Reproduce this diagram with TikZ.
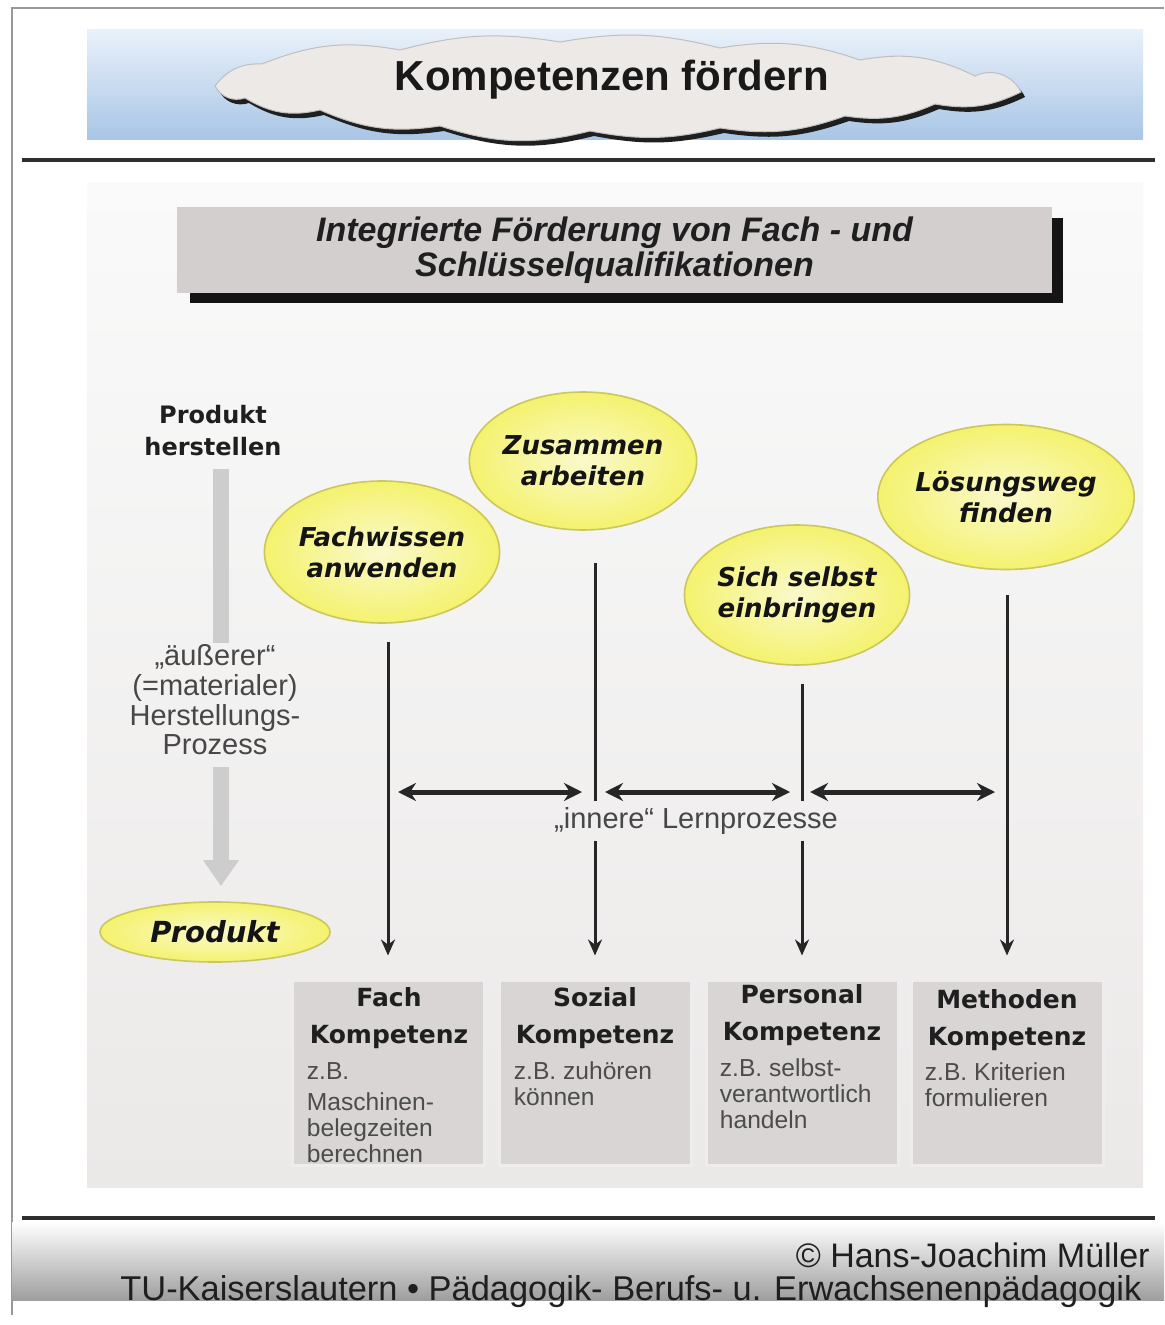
\documentclass[tikz,border=0pt]{standalone}
\usepackage{fontspec}
\setmainfont{Liberation Sans}
\newfontfamily\wide{DejaVu Sans}
\usetikzlibrary{arrows.meta,shapes.geometric,calc}

\definecolor{bandtop}{HTML}{E9F1FA}
\definecolor{bandbot}{HTML}{A8C5E6}
\definecolor{cloudfill}{HTML}{ECE9E7}
\definecolor{paneltop}{HTML}{FAFAFA}
\definecolor{panelbot}{HTML}{EBE9E8}
\definecolor{headgray}{HTML}{D3CFCF}
\definecolor{boxgray}{HTML}{D9D5D4}
\definecolor{ylight}{HTML}{FAF9CC}
\definecolor{ymid}{HTML}{F4F26A}
\definecolor{ydark}{HTML}{E9E526}
\definecolor{yrim}{HTML}{CBC65E}
\definecolor{arrowgray}{HTML}{CDCDCD}

\pgfdeclareradialshading{yellowball}{\pgfpoint{0bp}{0bp}}{%
  color(0bp)=(ylight); color(26bp)=(ymid); color(45bp)=(ydark); color(50bp)=(ydark)}

\tikzset{
  ball/.style={ellipse, shading=yellowball, draw=yrim, line width=0.8pt,
    inner sep=0pt, align=center, text=black!92,
    font=\wide\bfseries\itshape\fontsize{13}{15.5}\selectfont},
  kbox/.style={rectangle, fill=boxgray, draw=white!55!boxgray, line width=1.5pt,
    minimum width=96pt, minimum height=92.5pt, inner sep=0pt},
  ktitle/.style={align=center, inner sep=0pt, text=black!88,
    font=\wide\bfseries\fontsize{12.5}{18.5}\selectfont},
  kdesc/.style={align=left, inner sep=0pt, anchor=north west, text=black!70,
    font=\fontsize{12.3}{13}\selectfont},
  vline/.style={line width=1.5pt, black!85},
  varr/.style={vline, -{Stealth[length=8pt,width=7pt]}},
  harr/.style={line width=2.5pt, black!85,
    {Stealth[length=9pt,width=9pt]}-{Stealth[length=9pt,width=9pt]}},
  procline/.style={line width=8pt, arrowgray},
  procarrow/.style={procline, -{Triangle[length=13pt,width=17pt]}},
  note/.style={align=center, inner sep=2pt, text=black!72,
    font=\fontsize{14.5}{14.8}\selectfont},
  cloudpath/.style={insert path={
    (215,86) to[bend left=28] (262,64) to[bend left=16] (400,50)
    to[bend left=12] (560,42) to[bend left=12] (720,48)
    to[bend left=14] (860,60) to[bend left=18] (975,76)
    to[bend left=45] (1021,92) to[bend left=18] (935,104)
    to[bend left=16] (845,116) to[bend left=14] (720,128)
    to[bend left=12] (590,131) to[bend left=16] (440,126)
    to[bend left=16] (320,110) to[bend left=22] (245,98)
    to[bend left=40] (215,86) -- cycle}}
}

\begin{document}
\begin{tikzpicture}[x=0.5pt,y=-0.5pt]
\useasboundingbox (0,0) rectangle (1164,1325);
\clip (0,0) rectangle (1164,1325);
\fill[white] (0,0) rectangle (1164,1325);

% page frame
\draw[black!40, line width=1pt] (12,1315) -- (12,8) -- (1164,8);

% title band with cloud
\fill[top color=bandtop, bottom color=bandbot] (87,30) rectangle (1143,140);
\fill[black!88, shift={(4,5)}, cloudpath];
\fill[cloudfill, draw=black!25, line width=0.5pt, cloudpath];
\node[font=\bfseries\fontsize{21}{24}\selectfont, text=black!90] (title) at (612,80) {Kompetenzen fördern};

% separator lines
\draw[black!82, line width=2pt] (22,160) -- (1155,160);

% main panel
\fill[top color=paneltop, bottom color=panelbot] (87,183) rectangle (1143,1187);

% heading box with shadow
\fill[black!92] (190,218) rectangle (1063,303);
\node[rectangle, fill=headgray, minimum width=437.5pt, minimum height=43pt,
  align=center, inner sep=0pt, text=black!88,
  font=\bfseries\itshape\fontsize{17}{17.5}\selectfont]
  (integ) at (614.5,250) {Integrierte Förderung von Fach - und\\Schlüsselqualifikationen};

% left column: material production process
\node[align=center, inner sep=0pt, text=black!88,
  font=\wide\bfseries\fontsize{12}{16}\selectfont] (herst) at (213,431) {Produkt\\herstellen};
\node[ellipse, shading=yellowball, draw=yrim, line width=0.8pt,
  minimum width=115pt, minimum height=30pt, inner sep=0pt, text=black!92,
  font=\wide\bfseries\itshape\fontsize{14.5}{16}\selectfont] (prod) at (215,932) {Produkt};
\node[note] (aeuss) at (215,700) {„äußerer“\\(=materialer)\\Herstellungs-\\Prozess};
\draw[procline] ($(herst.south)+(8,12)$) -- ($(aeuss.north -| herst.south)+(8,2)$);
\draw[procarrow] ($(aeuss.south -| herst.south)+(8,8)$) -- ($(prod.north)+(6,-15)$);

% competence goals
\node[ball, minimum width=90pt, minimum height=71pt] (c1) at (382,552) {Fachwissen\\anwenden};
\node[ball, minimum width=85pt, minimum height=69pt] (c2) at (583,461) {Zusammen\\arbeiten};
\node[ball, minimum width=85pt, minimum height=70pt] (c3) at (797,595) {Sich selbst\\einbringen};
\node[ball, minimum width=98pt, minimum height=72.5pt] (c4) at (1006,497) {Lösungsweg\\finden};

% competence boxes
\node[kbox] (fach) at (388,1072.5) {};
\node[kbox] (sozial) at (595,1072.5) {};
\node[kbox] (personal) at (802,1072.5) {};
\node[kbox] (methoden) at (1007,1072.5) {};

\node[ktitle] (t1) at ($(fach.north)+(1,39.5)$) {Fach\\Kompetenz};
\node[ktitle] (t2) at ($(sozial.north)+(0,39.5)$) {Sozial\\Kompetenz};
\node[ktitle] (t3) at ($(personal.north)+(0,36.5)$) {Personal\\Kompetenz};
\node[ktitle] (t4) at ($(methoden.north)+(0,41.5)$) {Methoden\\Kompetenz};

\node[kdesc] (d1) at ($(fach.north west)+(16,84)$) {z.B.\\[2.5pt]Maschinen-\\belegzeiten\\berechnen};
\node[kdesc] (d2) at ($(sozial.north west)+(16,83)$) {z.B. zuhören\\können};
\node[kdesc] (d3) at ($(personal.north west)+(15,80)$) {z.B. selbst-\\verantwortlich\\handeln};
\node[kdesc] (d4) at ($(methoden.north west)+(15,84)$) {z.B. Kriterien\\formulieren};

% inner learning processes
\node[note] (lp) at (696,821) {„innere“ Lernprozesse};
\coordinate (hy) at (0,792);

\draw[varr] ($(c1.south -| fach.north)+(0,18)$) -- ($(fach.north)+(0,-23)$);
\draw[vline] ($(c2.south -| sozial.north)+(0,32)$) -- ($(lp.north -| sozial.north)+(0,-2)$);
\draw[varr] ($(lp.south -| sozial.north)+(0,2)$) -- ($(sozial.north)+(0,-23)$);
\draw[vline] ($(c3.south -| personal.north)+(0,18)$) -- ($(lp.north -| personal.north)+(0,-2)$);
\draw[varr] ($(lp.south -| personal.north)+(0,2)$) -- ($(personal.north)+(0,-23)$);
\draw[varr] ($(c4.south -| methoden.north)+(0,25)$) -- ($(methoden.north)+(0,-23)$);

\draw[harr] ($(fach.north |- hy)+(10,0)$) -- ($(sozial.north |- hy)+(-13,0)$);
\draw[harr] ($(sozial.north |- hy)+(10,0)$) -- ($(personal.north |- hy)+(-12,0)$);
\draw[harr] ($(personal.north |- hy)+(8,0)$) -- ($(methoden.north |- hy)+(-12,0)$);

% footer
\fill[top color=white, bottom color=black!38] (12,1222) rectangle (1164,1300);
\draw[black!82, line width=2pt] (22,1218) -- (1155,1218);
\node[anchor=east, inner sep=0pt, text=black!88, font=\fontsize{17}{20}\selectfont]
  (author) at (1150,1255) {© Hans-Joachim Müller};
\node[anchor=west, inner sep=0pt, text=black!88, font=\fontsize{17.2}{20}\selectfont]
  (inst) at (120,1292) {TU-Kaiserslautern • Pädagogik- Berufs- u. Erwachsenenpädagogik};
\end{tikzpicture}
\end{document}
